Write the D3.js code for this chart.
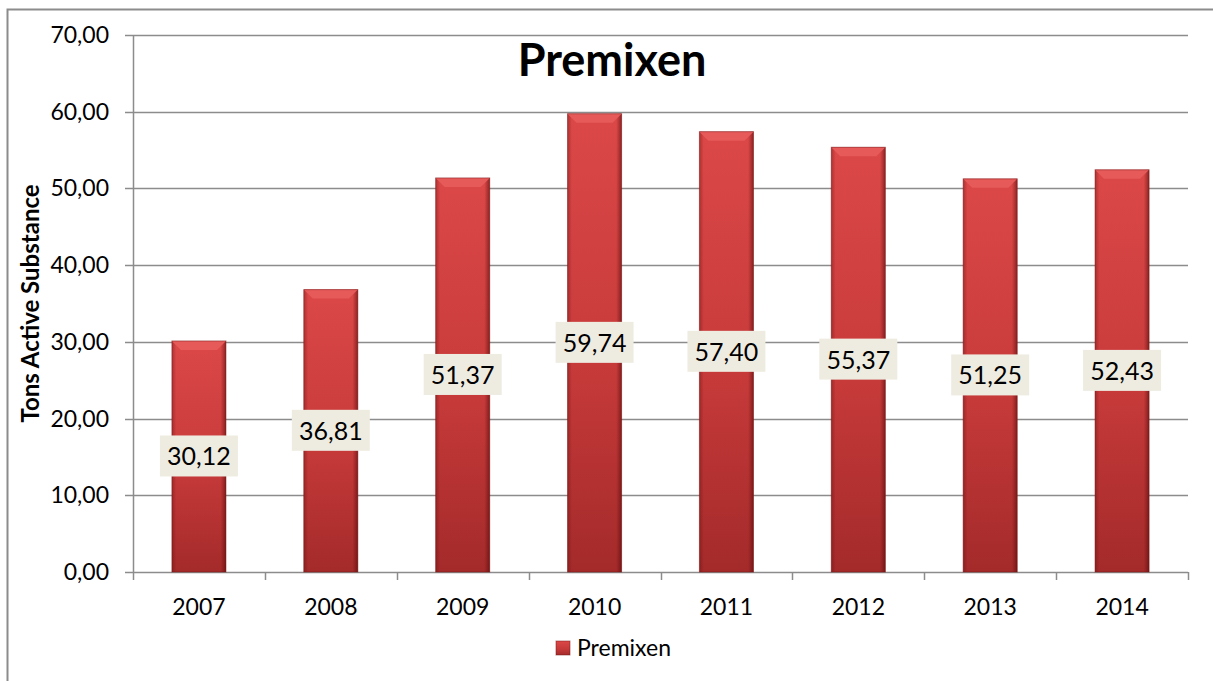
<!DOCTYPE html>
<html>
<head>
<meta charset="utf-8">
<script src="https://cdn.jsdelivr.net/npm/d3@7"></script>
<style>
body { margin: 0; background: #fff; }
text { font-family: Lato, "Open Sans", sans-serif; }
</style>
</head>
<body>
<script>
// chart data
var years = ["2007", "2008", "2009", "2010", "2011", "2012", "2013", "2014"];
var values = [30.12, 36.81, 51.37, 59.74, 57.40, 55.37, 51.25, 52.43];
var yTicks = [0, 10, 20, 30, 40, 50, 60, 70];
var seriesName = "Premixen";

var W = 1213, H = 681;
var margin = {top: 35, right: 25, bottom: 109, left: 133};
var width = W - margin.left - margin.right;
var height = H - margin.top - margin.bottom;

var fmt = function(v) { return v.toFixed(2).replace(".", ","); };

var svg = d3.select("body").append("svg")
    .attr("width", W)
    .attr("height", H);

var defs = svg.append("defs");
// vertical shading of the bars
var gv = defs.append("linearGradient").attr("id", "barV")
    .attr("x1", 0).attr("y1", 0).attr("x2", 0).attr("y2", 1);
gv.append("stop").attr("offset", "0%").attr("stop-color", "#dc4848");
gv.append("stop").attr("offset", "55%").attr("stop-color", "#c73a3a");
gv.append("stop").attr("offset", "100%").attr("stop-color", "#a42a2a");
// horizontal edge darkening
var gh = defs.append("linearGradient").attr("id", "barH")
    .attr("x1", 0).attr("y1", 0).attr("x2", 1).attr("y2", 0);
gh.append("stop").attr("offset", "0%").attr("stop-color", "#5a0a0a").attr("stop-opacity", 0.35);
gh.append("stop").attr("offset", "8%").attr("stop-color", "#5a0a0a").attr("stop-opacity", 0);
gh.append("stop").attr("offset", "90%").attr("stop-color", "#5a0a0a").attr("stop-opacity", 0);
gh.append("stop").attr("offset", "100%").attr("stop-color", "#4a0505").attr("stop-opacity", 0.55);

// outer chart border
svg.append("rect")
    .attr("x", 7.5).attr("y", 9.5)
    .attr("width", W + 20).attr("height", H + 20)
    .attr("fill", "none")
    .attr("stroke", "#8c8c8c")
    .attr("stroke-width", 2);

var g = svg.append("g")
    .attr("transform", "translate(" + margin.left + "," + margin.top + ")");

var x = d3.scaleBand().domain(years).range([0, width]).paddingInner(0.59).paddingOuter(0.295);
var y = d3.scaleLinear().domain([0, 70]).range([height, 0]);

// gridlines
g.selectAll(".grid")
    .data(yTicks)
    .enter().append("line")
    .attr("x1", -8).attr("x2", width)
    .attr("y1", function(d) { return Math.round(y(d)) + 0.5; })
    .attr("y2", function(d) { return Math.round(y(d)) + 0.5; })
    .attr("stroke", "#8c8c8c")
    .attr("stroke-width", 1.5);

// y axis line
g.append("line")
    .attr("x1", 0.5).attr("x2", 0.5)
    .attr("y1", 0).attr("y2", height)
    .attr("stroke", "#8c8c8c").attr("stroke-width", 1.5);

// x ticks at band edges
var edges = d3.range(years.length + 1).map(function(i) { return i * width / years.length; });
g.selectAll(".xtick")
    .data(edges)
    .enter().append("line")
    .attr("x1", function(d) { return Math.round(d) + 0.5; })
    .attr("x2", function(d) { return Math.round(d) + 0.5; })
    .attr("y1", height).attr("y2", height + 8)
    .attr("stroke", "#8c8c8c").attr("stroke-width", 1.5);

// y labels
g.selectAll(".ylab")
    .data(yTicks)
    .enter().append("text")
    .attr("x", -24)
    .attr("y", function(d) { return y(d); })
    .attr("dy", "0.35em")
    .attr("text-anchor", "end")
    .attr("font-size", 23)
    .attr("fill", "#000")
    .text(fmt);

// x labels
g.selectAll(".xlab")
    .data(years)
    .enter().append("text")
    .attr("x", function(d) { return x(d) + x.bandwidth() / 2; })
    .attr("y", height + 43)
    .attr("text-anchor", "middle")
    .attr("font-size", 23)
    .attr("fill", "#000")
    .text(function(d) { return d; });

// bars
var bars = g.selectAll(".bar")
    .data(values)
    .enter().append("g");

bars.append("rect")
    .attr("x", function(d, i) { return x(years[i]); })
    .attr("y", function(d) { return y(d); })
    .attr("width", x.bandwidth())
    .attr("height", function(d) { return height - y(d); })
    .attr("fill", "url(#barV)");
bars.append("rect")
    .attr("x", function(d, i) { return x(years[i]); })
    .attr("y", function(d) { return y(d); })
    .attr("width", x.bandwidth())
    .attr("height", function(d) { return height - y(d); })
    .attr("fill", "url(#barH)");
// bevelled top
bars.append("path")
    .attr("d", function(d, i) {
        var x0 = x(years[i]), x1 = x0 + x.bandwidth(), y0 = y(d), b = 9;
        return "M" + x0 + "," + y0 + "L" + x1 + "," + y0 + "L" + (x1 - b) + "," + (y0 + b) +
            "L" + (x0 + b) + "," + (y0 + b) + "Z";
    })
    .attr("fill", "#e65a5a");
bars.append("rect")
    .attr("x", function(d, i) { return x(years[i]); })
    .attr("y", function(d) { return y(d); })
    .attr("width", x.bandwidth())
    .attr("height", function(d) { return height - y(d); })
    .attr("fill", "none")
    .attr("stroke", "#7a1515")
    .attr("stroke-opacity", 0.5)
    .attr("stroke-width", 1);

// value labels
var labels = g.selectAll(".vlab")
    .data(values)
    .enter().append("g")
    .attr("transform", function(d, i) {
        return "translate(" + (x(years[i]) + x.bandwidth() / 2) + "," + y(d / 2) + ")";
    });
labels.append("rect")
    .attr("x", -39).attr("y", -21)
    .attr("width", 78).attr("height", 41)
    .attr("fill", "#eeece1");
labels.append("text")
    .attr("text-anchor", "middle")
    .attr("dy", "0.36em")
    .attr("font-size", 25)
    .attr("fill", "#000")
    .text(fmt);

// title
svg.append("text")
    .attr("x", 612).attr("y", 76)
    .attr("text-anchor", "middle")
    .attr("font-size", 45)
    .attr("font-weight", "bold")
    .text(seriesName);

// y axis title
svg.append("text")
    .attr("transform", "translate(39," + (margin.top + height / 2) + ") rotate(-90)")
    .attr("text-anchor", "middle")
    .attr("font-size", 24)
    .attr("font-weight", "bold")
    .text("Tons Active Substance");

// legend
var lg = svg.append("g").attr("transform", "translate(556,641)");
lg.append("rect").attr("width", 14).attr("height", 14).attr("fill", "url(#barV)")
    .attr("stroke", "#7a1515").attr("stroke-opacity", 0.5);
lg.append("text")
    .attr("x", 21).attr("y", 7)
    .attr("dy", "0.36em")
    .attr("font-size", 23)
    .text(seriesName);
</script>
</body>
</html>
